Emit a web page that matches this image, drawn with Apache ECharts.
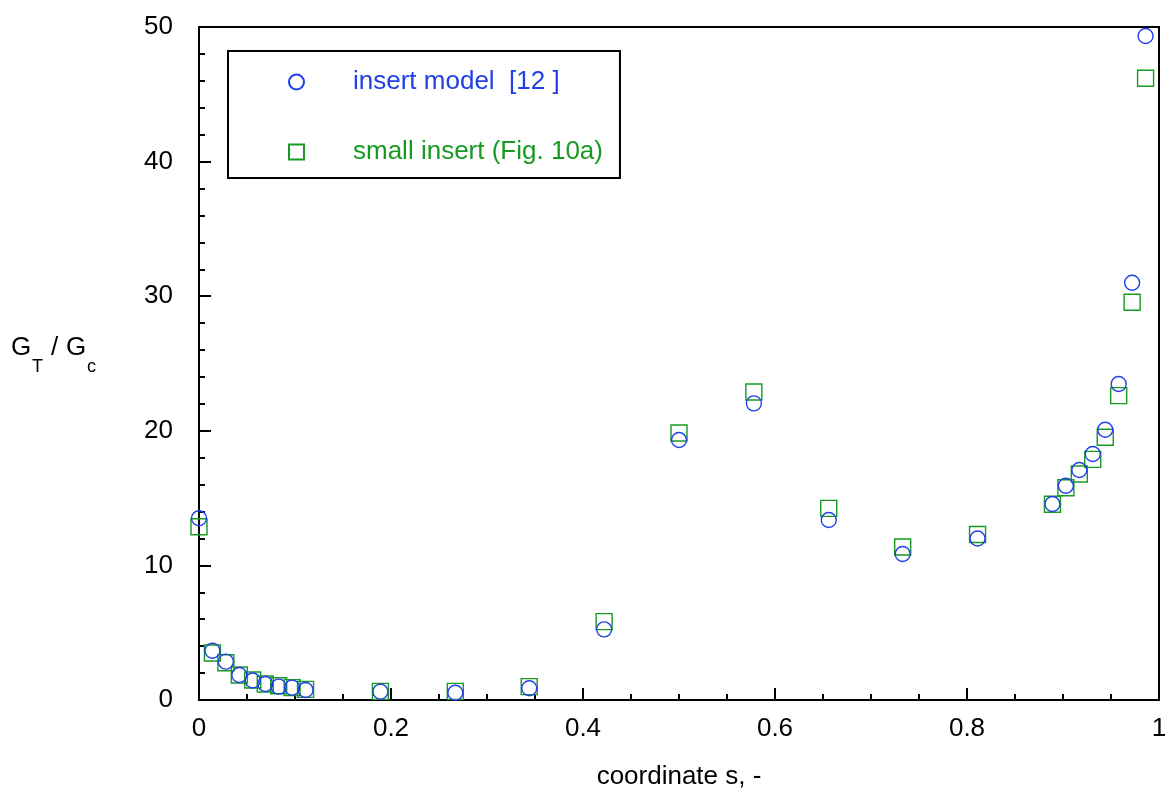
<!DOCTYPE html>
<html>
<head>
<meta charset="utf-8">
<style>html,body{margin:0;padding:0;background:#fff}#chart{width:1169px;height:791px}</style>
<script src="https://cdn.jsdelivr.net/npm/echarts@6/dist/echarts.min.js"></script>
</head>
<body>
<div id="chart"></div>
<script>
const coordS = [0, 0.014, 0.028, 0.042, 0.056, 0.069, 0.083, 0.097, 0.111, 0.189, 0.267, 0.344, 0.422, 0.5, 0.578, 0.656, 0.733, 0.811, 0.889, 0.903, 0.917, 0.931, 0.944, 0.958, 0.972, 0.986];
const insertModel = [13.5, 3.66, 2.85, 1.86, 1.45, 1.19, 0.99, 0.92, 0.74, 0.62, 0.54, 0.87, 5.25, 19.32, 22.04, 13.37, 10.85, 12.0, 14.56, 15.92, 17.09, 18.28, 20.08, 23.48, 31.0, 49.33];
const smallInsert = [12.87, 3.49, 2.77, 1.86, 1.49, 1.19, 1.06, 0.92, 0.79, 0.64, 0.64, 0.99, 5.82, 19.84, 22.88, 14.24, 11.37, 12.3, 14.54, 15.77, 16.79, 17.88, 19.52, 22.61, 29.55, 46.19];
const seriesNames = ['insert model  [12 ]', 'small insert (Fig. 10a)'];
const xTicks = {min: 0, max: 1, interval: 0.2};
const yTicks = {min: 0, max: 50, interval: 10};

const BLUE = '#2140e6';
const GREEN = '#169a22';
const FONT = '"Liberation Sans", Arial, Helvetica, sans-serif';

const chart = echarts.init(document.getElementById('chart'), null, {renderer: 'canvas'});
const pairs = (xs, ys) => xs.map((x, i) => [x, ys[i]]);

chart.setOption({
  animation: false,
  backgroundColor: '#fff',
  grid: {left: 199, right: 10, top: 27, bottom: 91, containLabel: false, outerBoundsMode: 'none',
    show: true, borderColor: '#000', borderWidth: 2, backgroundColor: 'transparent'},
  legend: {
    left: 228, top: 51, orient: 'vertical',
    itemWidth: 15, itemHeight: 15, itemGap: 44,
    padding: [18, 17, 13, 60],
    borderColor: '#000', borderWidth: 2, backgroundColor: '#fff',
    textStyle: {fontFamily: FONT, fontSize: 26, padding: [0, 0, 0, 44]},
    data: [
      {name: seriesNames[0], textStyle: {color: BLUE}},
      {name: seriesNames[1], textStyle: {color: GREEN}}
    ]
  },
  xAxis: {
    type: 'value', min: xTicks.min, max: xTicks.max, interval: xTicks.interval,
    name: 'coordinate s, -', nameLocation: 'middle', nameGap: 64,
    nameTextStyle: {fontFamily: FONT, fontSize: 26, color: '#000'},
    axisLine: {show: true, lineStyle: {color: '#000', width: 2}},
    axisTick: {show: true, inside: true, length: 12, lineStyle: {color: '#000', width: 2}},
    minorTick: {show: true, splitNumber: 4, length: 6, lineStyle: {color: '#000', width: 2}},
    axisLabel: {fontFamily: FONT, fontSize: 26, color: '#000', margin: 16,
      formatter: v => (v === 0 || v === 1) ? String(v) : String(+v.toFixed(1))},
    splitLine: {show: false}
  },
  yAxis: {
    type: 'value', min: yTicks.min, max: yTicks.max, interval: yTicks.interval,
    axisLine: {show: true, lineStyle: {color: '#000', width: 2}},
    axisTick: {show: true, inside: true, length: 12, lineStyle: {color: '#000', width: 2}},
    minorTick: {show: true, splitNumber: 5, length: 6, lineStyle: {color: '#000', width: 2}},
    axisLabel: {fontFamily: FONT, fontSize: 26, color: '#000', margin: 26, padding: [0, 0, 8, 0]},
    splitLine: {show: false}
  },
  graphic: [
    {type: 'text', left: 11, top: 335, style: {text: 'G', font: '26px ' + FONT, fill: '#000'}},
    {type: 'text', left: 32, top: 358, style: {text: 'T', font: '18px ' + FONT, fill: '#000'}},
    {type: 'text', left: 51, top: 335, style: {text: '/', font: '26px ' + FONT, fill: '#000'}},
    {type: 'text', left: 66, top: 335, style: {text: 'G', font: '26px ' + FONT, fill: '#000'}},
    {type: 'text', left: 87, top: 358, style: {text: 'c', font: '18px ' + FONT, fill: '#000'}}
  ],
  series: [
    {
      name: seriesNames[0], type: 'scatter', symbol: 'circle', symbolSize: 15,
      itemStyle: {color: 'rgba(0,0,0,0)', borderColor: BLUE, borderWidth: 1.4, opacity: 1},
      data: pairs(coordS, insertModel), clip: false, z: 3
    },
    {
      name: seriesNames[1], type: 'scatter', symbol: 'rect', symbolSize: 16,
      itemStyle: {color: 'rgba(0,0,0,0)', borderColor: GREEN, borderWidth: 1.4, opacity: 1},
      data: pairs(coordS, smallInsert), clip: false, z: 2
    }
  ]
});
</script>
</body>
</html>
